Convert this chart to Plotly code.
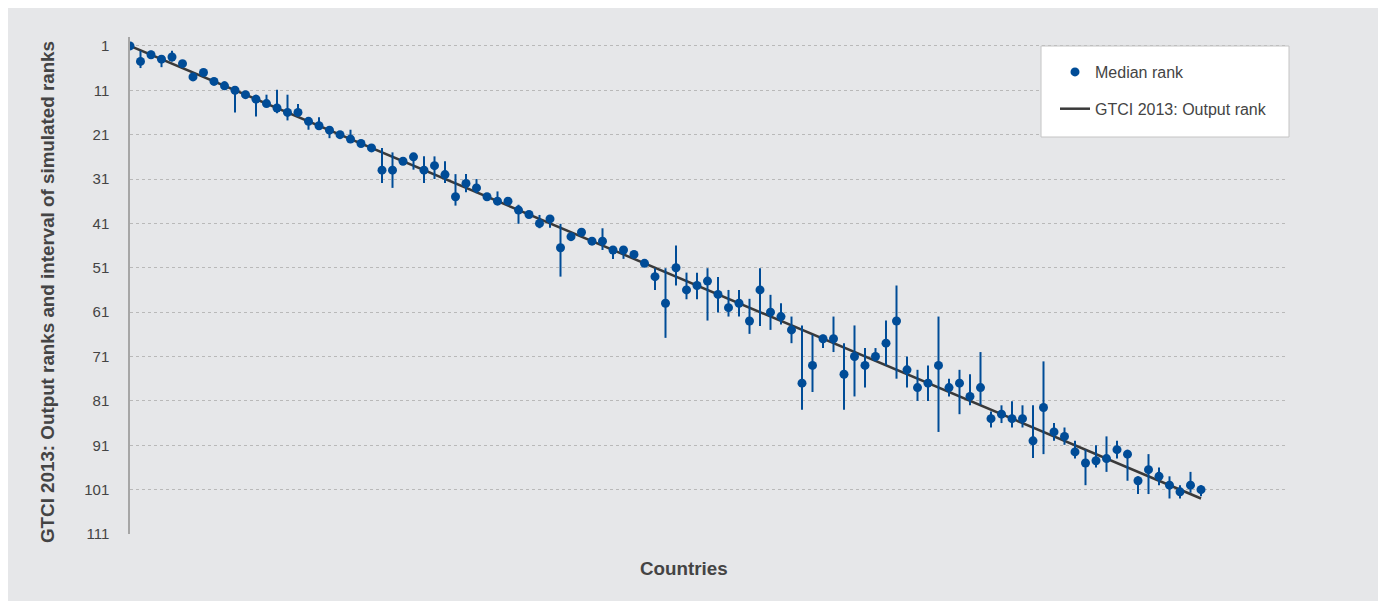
import plotly.graph_objects as go

# ---- data ----
countries = list(range(1, 104))          # country position (sorted by GTCI 2013 output rank)
output_rank = list(range(1, 104))        # GTCI 2013 output rank

median_rank = [
    1, 4.5, 3, 4, 3.5, 5, 8, 7, 9, 10,
    11, 12, 13, 14, 15, 16, 16, 18, 19, 20,
    21, 22, 23, 24, 29, 29, 27, 26, 29, 28,
    30, 35, 32, 33, 35, 36, 36, 38, 39, 41,
    40, 46.5, 44, 43, 45, 45, 47, 47, 48, 50,
    53, 59, 51, 56, 55, 54, 57, 60, 59, 63,
    56, 61, 62, 65, 77, 73, 67, 67, 75, 71,
    73, 71, 68, 63, 74, 78, 77, 73, 78, 77,
    80, 78, 85, 84, 85, 85, 90, 82.5, 88, 89,
    92.5, 95, 94.5, 94, 92, 93, 99, 96.5, 98, 100,
    101.5, 100, 101,
]
interval_low = [
    1, 2.1, 2.1, 3.4, 2.1, 4.2, 8, 7, 8.5, 9,
    10.5, 12, 12, 12, 10.9, 12, 14.1, 17.3, 17.1, 19.2,
    21, 19.9, 23, 24, 24, 25, 27, 25.2, 25.9, 25.9,
    27, 29.9, 29.9, 31, 35, 33.8, 36, 36.8, 39, 39.1,
    39.5, 41.1, 44, 43, 45, 42.1, 46.2, 46.2, 48, 50,
    51.1, 51.1, 46, 52.1, 52.1, 51.1, 53.1, 56, 56, 58,
    51.1, 57.1, 59, 62, 64, 66.1, 66.1, 62, 68, 64,
    69.1, 69.1, 62.9, 55, 71, 74, 73, 62, 76, 74,
    75, 70, 83.4, 82, 81.1, 82, 82, 72.1, 86, 87,
    90, 92, 91, 89, 90, 92, 98, 93, 96, 98,
    100, 97, 100,
]
interval_high = [
    1, 6, 3.4, 5.8, 4.5, 5.8, 8, 7, 9.5, 10.5,
    16, 12, 16.9, 14.8, 16.2, 17.8, 16.9, 19.9, 19.9, 21.8,
    21, 22.9, 23, 24, 31.9, 33, 27, 28.9, 31.9, 31,
    31.9, 37, 34, 34.2, 35, 36.8, 36, 41.1, 39, 42.1,
    42, 53, 44, 43, 45, 47, 49, 49, 48, 50,
    56, 66.8, 55, 58.1, 58.1, 62.9, 61.1, 62, 62, 65.9,
    64.1, 65, 63.8, 68, 83, 79, 69.1, 70, 83, 80,
    78, 72.1, 73, 76, 78, 81, 81, 88, 80, 84,
    82, 81.9, 87, 86, 87, 87, 93.9, 93, 90, 90.9,
    94, 100, 96, 97, 94, 99, 102, 102, 100, 103,
    103, 101.7, 102.5,
]
y_tick_values = [1, 11, 21, 31, 41, 51, 61, 71, 81, 91, 101, 111]
y_tick_labels = ["1", "11", "21", "31", "41", "51", "61", "71", "81", "91", "101", "111"]

# ---- styling ----
BLUE = "#004c97"
LINE = "#3a3a3a"
PANEL = "#e6e7e9"
TEXT = "#444444"
FONT = "Liberation Sans, Arial, sans-serif"

err_plus = [h - m for h, m in zip(interval_high, median_rank)]
err_minus = [m - l for m, l in zip(median_rank, interval_low)]

fig = go.Figure()

fig.add_trace(go.Scatter(
    x=countries, y=output_rank, mode="lines",
    name="GTCI 2013: Output rank",
    line=dict(color=LINE, width=2.5),
    legendgroup="b", legendrank=2,
))

fig.add_trace(go.Scatter(
    x=countries, y=median_rank, mode="markers",
    name="Median rank",
    marker=dict(color=BLUE, size=9),
    error_y=dict(type="data", symmetric=False, array=err_plus, arrayminus=err_minus,
                 color=BLUE, thickness=2, width=0),
    legendgroup="a", legendrank=1,
))

# page offset (body margin) and figure size
OFF = 8
FW, FH = 1386 - OFF, 606 - OFF
# plot area in page px: x 130..1285, y 37..534
PL, PR, PT, PB = 130, 1285, 37, 534
L = PL - OFF
T = PT - OFF
W = PR - PL
H = PB - PT
R = FW - L - W
B = FH - T - H

def px(xp):
    return (xp - PL) / W

def py(yp):
    return (PB - yp) / H

fig.update_layout(
    width=FW, height=FH,
    margin=dict(l=L, r=R, t=T, b=B, pad=0),
    paper_bgcolor="white",
    plot_bgcolor="rgba(0,0,0,0)",
    font=dict(family=FONT, color=TEXT, size=15),
    showlegend=True,
    legend=dict(
        x=px(1055), y=py(55), xanchor="left", yanchor="top",
        bgcolor="rgba(0,0,0,0)", borderwidth=0,
        font=dict(size=16, color=TEXT, family=FONT),
        traceorder="grouped", tracegroupgap=13,
    ),
    xaxis=dict(
        range=[1, 111], showticklabels=False, showgrid=False, zeroline=False,
        showline=False, ticks="",
    ),
    yaxis=dict(
        range=[111, -1], tickvals=y_tick_values, ticktext=y_tick_labels,
        showgrid=True, gridcolor="#b9b9b9", griddash="dot", gridwidth=1,
        zeroline=False, showline=True, linecolor="#a6a6a6", linewidth=1.5,
        ticks="", ticklabelstandoff=16,
        tickfont=dict(size=15, color=TEXT, family=FONT),
    ),
    shapes=[
        dict(type="rect", xref="paper", yref="paper",
             x0=px(5), x1=px(1382), y0=py(601), y1=py(4),
             fillcolor=PANEL, line=dict(width=0), layer="below"),
        dict(type="rect", xref="paper", yref="paper",
             x0=px(1041), x1=px(1289), y0=py(137), y1=py(46),
             fillcolor="white", line=dict(color="#c4c4c4", width=1), layer="above"),
    ],
    annotations=[
        dict(text="<b>GTCI 2013: Output ranks and interval of simulated ranks</b>",
             xref="paper", yref="paper", x=px(47), y=py(292),
             xanchor="center", yanchor="middle", textangle=-90, showarrow=False,
             font=dict(size=18.8, color=TEXT, family=FONT)),
        dict(text="<b>Countries</b>",
             xref="paper", yref="paper", x=px(683.5), y=py(568),
             xanchor="center", yanchor="middle", showarrow=False,
             font=dict(size=18.8, color=TEXT, family=FONT)),
    ],
)

fig.write_html("out.html")
